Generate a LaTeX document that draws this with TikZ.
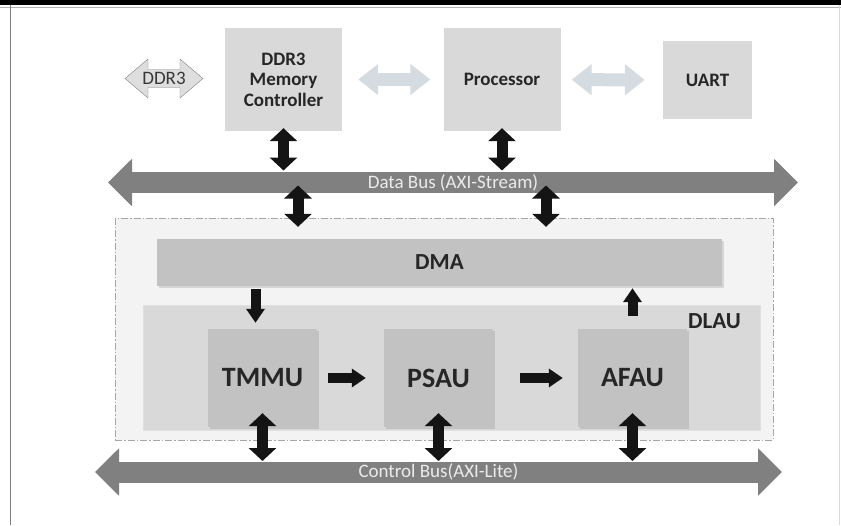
\documentclass[tikz,border=0pt]{standalone}
\usepackage{fontspec}
\setmainfont{Carlito}
\usetikzlibrary{arrows.meta,positioning,shadows}

\definecolor{boxgray}{HTML}{D9D9D9}
\definecolor{unitgray}{HTML}{C2C2C2}
\definecolor{busgray}{HTML}{808080}
\definecolor{linkblue}{HTML}{D5DCE1}
\definecolor{lauback}{HTML}{F3F3F3}

\begin{document}
\begin{tikzpicture}[x=1pt, y=-1pt,
  topbox/.style={fill=boxgray, minimum width=117pt, minimum height=103pt, align=center, text=black!85, font=\bfseries\fontsize{19}{20.5}\selectfont},
  unit/.style={fill=unitgray, minimum width=109pt, minimum height=98pt, text=black!85, font=\bfseries\fontsize{28}{30}\selectfont, drop shadow={shadow xshift=2pt, shadow yshift=-2pt, opacity=.25}},
  bus/.style={draw=busgray, line width=21pt, {Triangle[length=24pt,width=46pt]}-{Triangle[length=24pt,width=46pt]}},
  buslabel/.style={text=black!8, font=\fontsize{19}{21}\selectfont},
  blk/.style={draw=black!92, line width=11pt, {Triangle[length=13pt,width=27pt]}-{Triangle[length=13pt,width=27pt]}},
  fwd/.style={draw=black!92, line width=10pt, -{Triangle[length=14pt,width=18pt]}},
  softlink/.style={draw=linkblue, line width=13pt, {Triangle[length=20pt,width=30pt]}-{Triangle[length=20pt,width=30pt]}}
]
\useasboundingbox (0,0) rectangle (841,525);

% page frame
\fill[black] (0,0) rectangle (841,5);
\draw[gray!60, line width=.8pt] (0,7) -- (841,7);
\draw[gray, line width=1.6pt] (10.5,5) -- (10.5,525);
\draw[gray!30, line width=.8pt] (839.5,5) -- (839.5,525);

% host side
\node[topbox] (mc) at (283.5,79.5) {DDR3\\Memory\\Controller};
\node[topbox] (proc) at (502,79.5) {Processor};
\node[topbox, minimum width=89pt, minimum height=78pt] (uart) at (707.5,80) {UART};

% external DDR3 port (hollow double arrow)
\draw[gray, fill=black!13, line join=miter] (125,78.5) -- (148,59) -- (148,69.5) -- (180,69.5) -- (180,59)
  -- (203,78.5) -- (180,98) -- (180,87.5) -- (148,87.5) -- (148,98) -- cycle;
\node[text=black!78, inner sep=0pt, font=\fontsize{19}{20}\selectfont] (ddr) at (164,78.5) {DDR3};

\draw[softlink, shorten <=16pt, shorten >=13pt] (mc) -- (proc);
\draw[softlink, shorten <=11pt, shorten >=18pt] (proc) -- (uart);

% buses
\coordinate (dl) at (108,182.5);
\coordinate (dr) at (798,182.5);
\coordinate (cl) at (95,472);
\coordinate (cr) at (782,472);
\draw[bus] (dl) -- node[buslabel] (dlbl) {Data Bus (AXI-Stream)} (dr);
\draw[bus] (cl) -- node[buslabel] (clbl) {Control Bus(AXI-Lite)} (cr);

% accelerator
\node[draw=gray!70, fill=lauback, dash pattern=on 7pt off 2pt on 1.5pt off 2pt,
      minimum width=658pt, minimum height=222pt] (lau) at (444,329) {};
\node[fill=unitgray, minimum width=565pt, minimum height=47pt, text=black!85,
      font=\bfseries\fontsize{23}{25}\selectfont,
      drop shadow={shadow xshift=2pt, shadow yshift=-2pt, opacity=.25}] (dma) at (439.5,262.5) {DMA};
\node[fill=boxgray, draw=black!12, minimum width=617pt, minimum height=125pt] (dlau) at (451.5,367.5) {};
\node[text=black!85, font=\bfseries\fontsize{23}{25}\selectfont] (dlaulbl) at (714.5,321) {DLAU};

\node[unit] (tmmu) at (262.5,378) {TMMU};
\node[unit] (psau) at (438.5,378) {PSAU};
\node[unit] (afau) at (632.5,378) {AFAU};

\coordinate (d1) at (298,182.5);
\coordinate (d2) at (546,182.5);

% data path
\draw[blk, shorten <=-3pt, shorten >=12pt] (mc.south) -- (mc.south |- dl);
\draw[blk, shorten <=-3pt, shorten >=12pt] (proc.south) -- (proc.south |- dl);
\draw[blk] ([yshift=-3pt]d1) -- ([yshift=12pt]d1 |- dma.north);
\draw[blk] ([yshift=-3pt]d2) -- ([yshift=12pt]d2 |- dma.north);
\draw[fwd] ([xshift=-7pt,yshift=-3pt]dma.south -| tmmu) -- ([xshift=-7pt,yshift=6pt]tmmu.north);
\draw[fwd] ([yshift=13pt]afau.north) -- ([yshift=-2pt]dma.south -| afau);
\draw[fwd, shorten <=11pt, shorten >=18pt] (tmmu) -- (psau);
\draw[fwd, shorten <=27pt, shorten >=15pt] (psau) -- (afau);

% control path
\draw[blk, shorten >=11pt] ([yshift=14pt]tmmu.south) -- (tmmu.south |- cl);
\draw[blk, shorten >=11pt] ([yshift=14pt]psau.south) -- (psau.south |- cl);
\draw[blk, shorten >=11pt] ([yshift=14pt]afau.south) -- (afau.south |- cl);
\end{tikzpicture}
\end{document}
